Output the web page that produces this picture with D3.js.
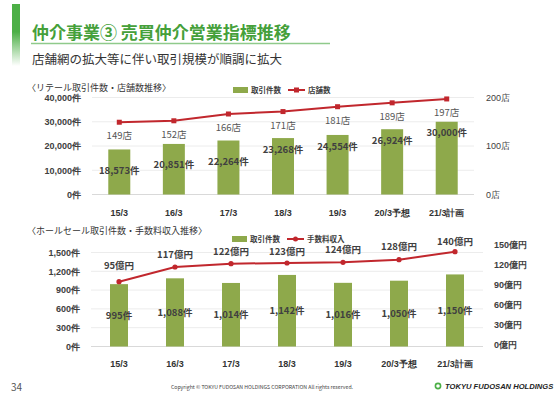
<!DOCTYPE html>
<html>
<head>
<meta charset="utf-8">
<script src="https://cdn.jsdelivr.net/npm/d3@7"></script>
<style>
  body { margin: 0; background: #fff; }
  svg { display: block; font-family: "Noto Sans CJK JP", "Noto Sans", sans-serif; }
</style>
</head>
<body>
<svg id="chart" width="560" height="396"></svg>
<script>
// data
const years = ["15/3", "16/3", "17/3", "18/3", "19/3", "20/3予想", "21/3計画"];
const retailDeals = [18573, 20851, 22264, 23268, 24554, 26924, 30000];
const retailStores = [149, 152, 166, 171, 181, 189, 197];
const wholesaleDeals = [995, 1088, 1014, 1142, 1016, 1050, 1150];
const wholesaleFees = [95, 117, 122, 123, 124, 128, 140];

const retailTicks = [0, 10000, 20000, 30000, 40000];
const storeTicks = [0, 100, 200];
const wholesaleTicks = [0, 300, 600, 900, 1200, 1500];
const feeTicks = [0, 30, 60, 90, 120, 150];

// label nudges (as placed on the slide)
const retailLabelDy = [25, 24, 24, 15, 15, 15, 14.5];
const feeLabelDy = [-13, -9.5, -9, -8.5, -9, -9.5, -7];

const green = "#8ea94b";
const red = "#c1272d";
const dark = "#404040";
const fmt = d3.format(",");

const svg = d3.select("#chart");

// header
const grad = svg.append("defs").append("linearGradient")
  .attr("id", "fade").attr("x1", 0).attr("x2", 0).attr("y1", 0).attr("y2", 1);
grad.append("stop").attr("offset", "0%").attr("stop-color", "#4caf46");
grad.append("stop").attr("offset", "45%").attr("stop-color", "#4caf46");
grad.append("stop").attr("offset", "100%").attr("stop-color", "#4caf46").attr("stop-opacity", 0);
svg.append("rect").attr("x", 12).attr("y", 4).attr("width", 8).attr("height", 62).attr("fill", "url(#fade)");

svg.append("text").attr("x", 32).attr("y", 39)
  .attr("font-size", 17).attr("font-weight", "bold").attr("fill", "#45a03a")
  .text("仲介事業③ 売買仲介営業指標推移");
svg.append("line").attr("x1", 31).attr("x2", 330).attr("y1", 43.5).attr("y2", 43.5)
  .attr("stroke", "#8fca8b").attr("stroke-width", 1.5);
svg.append("text").attr("x", 32).attr("y", 64)
  .attr("font-size", 12.5).attr("fill", "#333")
  .text("店舗網の拡大等に伴い取引規模が順調に拡大");

function drawPanel(opt) {
  const g = svg.append("g");

  const x = d3.scaleBand().domain(years).range(opt.xRange).paddingInner(0).paddingOuter(0);
  const y = d3.scaleLinear().domain([0, d3.max(opt.leftTicks)]).range(opt.yRange);
  const y2 = d3.scaleLinear().domain([0, d3.max(opt.rightTicks)]).range(opt.y2Range);

  // title
  g.append("text").attr("x", 27).attr("y", opt.titleY)
    .attr("font-size", 9).attr("fill", "#333").text(opt.title);

  // gridlines
  g.selectAll(".grid").data(opt.leftTicks).enter().append("line")
    .attr("x1", opt.xRange[0]).attr("x2", opt.xRange[1])
    .attr("y1", d => y(d)).attr("y2", d => y(d))
    .attr("stroke", d => d === 0 ? "#d9d9d9" : "#ececec").attr("stroke-width", 1);

  // left axis
  const left = g.append("g").attr("transform", `translate(${opt.leftX},0)`)
    .call(d3.axisLeft(y).tickValues(opt.leftTicks).tickSize(0).tickFormat(d => fmt(d) + "件"));
  left.select(".domain").remove();
  left.selectAll("text").attr("font-size", 9).attr("font-weight", "bold").attr("fill", dark)
    .attr("font-family", null);

  // right axis
  const right = g.append("g").attr("transform", `translate(${opt.rightX},0)`)
    .call(d3.axisRight(y2).tickValues(opt.rightTicks).tickSize(0).tickFormat(d => d + opt.rightUnit));
  right.select(".domain").remove();
  right.selectAll("text").attr("font-size", 9).attr("font-weight", opt.rightBold ? "bold" : "normal")
    .attr("fill", dark).attr("font-family", null);

  // bottom axis
  const bottom = g.append("g").attr("transform", `translate(0,${opt.yRange[0]})`)
    .call(d3.axisBottom(x).tickSize(0).tickPadding(opt.xPad));
  bottom.select(".domain").remove();
  bottom.selectAll("text").attr("font-size", 9).attr("font-weight", "bold").attr("fill", "#333")
    .attr("font-family", null);

  // bars
  g.selectAll(".bar").data(opt.bars).enter().append("rect")
    .attr("x", (d, i) => x(years[i]) + (x.bandwidth() - opt.barW) / 2)
    .attr("width", opt.barW)
    .attr("y", d => y(d))
    .attr("height", d => y(0) - y(d))
    .attr("fill", green);

  // line
  const line = d3.line().x((d, i) => x(years[i]) + x.bandwidth() / 2).y(d => y2(d));
  g.append("path").datum(opt.line).attr("d", line)
    .attr("fill", "none").attr("stroke", red).attr("stroke-width", 2);
  if (opt.square) {
    g.selectAll(".pt").data(opt.line).enter().append("rect")
      .attr("x", (d, i) => x(years[i]) + x.bandwidth() / 2 - 2.5)
      .attr("y", d => y2(d) - 2.5).attr("width", 5).attr("height", 5).attr("fill", red);
  } else {
    g.selectAll(".pt").data(opt.line).enter().append("circle")
      .attr("cx", (d, i) => x(years[i]) + x.bandwidth() / 2)
      .attr("cy", d => y2(d)).attr("r", 2.6).attr("fill", red);
  }

  // bar labels
  g.selectAll(".bl").data(opt.bars).enter().append("text")
    .attr("x", (d, i) => x(years[i]) + x.bandwidth() / 2)
    .attr("y", (d, i) => opt.barLabelY(d, i, y))
    .attr("text-anchor", "middle").attr("font-size", 9.5).attr("font-weight", "bold")
    .attr("fill", dark).text(d => fmt(d) + "件");

  // line labels
  g.selectAll(".ll").data(opt.line).enter().append("text")
    .attr("x", (d, i) => x(years[i]) + x.bandwidth() / 2)
    .attr("y", (d, i) => y2(d) + opt.lineDy[i])
    .attr("text-anchor", "middle").attr("font-size", 9.5)
    .attr("font-weight", opt.lineBold ? "bold" : "normal")
    .attr("fill", opt.lineBold ? dark : "#555").text(d => d + opt.rightUnit);

  // legend
  const lg = g.append("g").attr("transform", `translate(${opt.legendX},${opt.legendY})`);
  lg.append("rect").attr("x", 0).attr("y", -3).attr("width", 15).attr("height", 6).attr("fill", green);
  lg.append("text").attr("x", 18).attr("y", 3).attr("font-size", 7.5).attr("font-weight", "bold")
    .attr("fill", dark).text("取引件数");
  lg.append("line").attr("x1", 55).attr("x2", 72).attr("y1", 0).attr("y2", 0)
    .attr("stroke", red).attr("stroke-width", 2);
  if (opt.square) {
    lg.append("rect").attr("x", 61).attr("y", -2.5).attr("width", 5).attr("height", 5).attr("fill", red);
  } else {
    lg.append("circle").attr("cx", 63.5).attr("cy", 0).attr("r", 2.5).attr("fill", red);
  }
  lg.append("text").attr("x", 75).attr("y", 3).attr("font-size", 7.5).attr("font-weight", "bold")
    .attr("fill", dark).text(opt.lineName);
}

drawPanel({
  title: "〈リテール取引件数・店舗数推移〉",
  titleY: 91,
  xRange: [92, 474],
  yRange: [194.5, 97.5],
  y2Range: [194.5, 97.5],
  leftTicks: retailTicks,
  rightTicks: storeTicks,
  rightUnit: "店",
  rightBold: false,
  leftX: 84,
  rightX: 483,
  xPad: 15,
  barW: 22,
  bars: retailDeals,
  line: retailStores,
  square: true,
  lineBold: false,
  lineDy: retailStores.map(() => 17),
  barLabelY: (d, i, y) => y(d) + retailLabelDy[i],
  lineName: "店舗数",
  legendX: 233,
  legendY: 90
});

drawPanel({
  title: "〈ホールセール取引件数・手数料収入推移〉",
  titleY: 234,
  xRange: [91, 483],
  yRange: [346.5, 252.5],
  y2Range: [345, 245],
  leftTicks: wholesaleTicks,
  rightTicks: feeTicks,
  rightUnit: "億円",
  rightBold: true,
  leftX: 83,
  rightX: 491,
  xPad: 14,
  barW: 18,
  bars: wholesaleDeals,
  line: wholesaleFees,
  square: false,
  lineBold: true,
  lineDy: feeLabelDy,
  barLabelY: (d, i, y) => (y(d) + y(0)) / 2 + 3.5,
  lineName: "手数料収入",
  legendX: 232,
  legendY: 239
});

// footer
svg.append("text").attr("x", 11).attr("y", 391).attr("font-size", 10).attr("fill", "#555").text("34");
svg.append("text").attr("x", 262).attr("y", 389).attr("text-anchor", "middle")
  .attr("font-size", 5.2).attr("fill", "#444")
  .text("Copyright © TOKYU FUDOSAN HOLDINGS CORPORATION All rights reserved.");
svg.append("circle").attr("cx", 438).attr("cy", 386).attr("r", 2.6)
  .attr("fill", "none").attr("stroke", "#4caf46").attr("stroke-width", 1.6);
svg.append("text").attr("x", 445).attr("y", 389)
  .attr("font-size", 7.6).attr("font-weight", "bold").attr("font-style", "italic")
  .attr("fill", "#222").attr("font-family", "Liberation Sans, sans-serif")
  .text("TOKYU FUDOSAN HOLDINGS");
</script>
</body>
</html>
